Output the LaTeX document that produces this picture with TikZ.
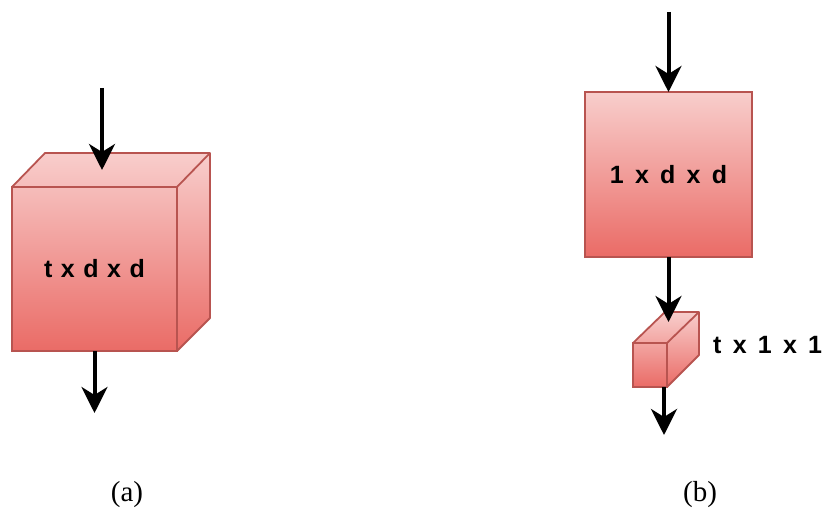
\documentclass[tikz,border=0pt]{standalone}
\usepackage{fontspec}
\setmainfont{Liberation Serif}
\setsansfont{Liberation Sans}
\usetikzlibrary{arrows.meta,backgrounds}

\definecolor{redtop}{HTML}{F8CECC}
\definecolor{redbot}{HTML}{EA6B66}
\definecolor{redline}{HTML}{B85450}

% bold sans with wide word gaps for the size labels
\newcommand{\dimsfont}{\sffamily\bfseries\fontsize{25}{30}\selectfont\spaceskip .34em\relax}
\newcommand{\widedimsfont}{\sffamily\bfseries\fontsize{25}{30}\selectfont\spaceskip .45em\relax}

\tikzset{
  front/.style={draw=redline,line width=1.8pt,outer sep=0pt,inner sep=0pt},
  body/.style={draw=redline,line width=1.8pt,line join=round,
    top color=redtop,bottom color=redbot},
  rim/.style={draw=redline,line width=1.8pt},
  flow/.style={line width=4pt,-{Stealth[length=26pt,width=26pt,inset=8pt]}},
  dims/.style={font=\dimsfont},
  widedims/.style={font=\widedimsfont},
  caption/.style={anchor=base,font=\fontsize{29}{34}\selectfont}
}

\begin{document}
\begin{tikzpicture}[x=1pt,y=-1pt]
  \useasboundingbox (0,0) rectangle (822,508);

  % (a) one block over t frames
  \node[front,dims,minimum width=165pt,minimum height=164pt] (blockA) at (94.5,269) {t x d x d};
  \begin{scope}[on background layer]
    \path[body] (blockA.south west) -- (blockA.north west) -- ++(33,-34) -- ++(165,0)
      -- ++(0,165) -- (blockA.south east) -- cycle;
  \end{scope}
  \draw[rim] (blockA.north east) -- ++(33,-34);
  \coordinate (srcA) at (102,88);
  \coordinate (hitA) at (102,170);
  \coordinate (sinkA) at (94.5,413);
  \draw[flow] (srcA) -- (hitA);
  \draw[flow] (blockA.south) -- (sinkA);
  \node[caption] (capA) at (127,501) {(a)};

  % (b) spatial block, then temporal block
  \node[front,widedims,top color=redtop,bottom color=redbot,
    minimum width=167pt,minimum height=165pt] (blockB) at (668.5,174.5) {1 x d x d};
  \node[front,minimum width=34pt,minimum height=44pt] (cellB) at (650,365) {};
  \begin{scope}[on background layer]
    \path[body] (cellB.south west) -- (cellB.north west) -- ++(32,-31) -- ++(34,0)
      -- ++(0,43) -- (cellB.south east) -- cycle;
  \end{scope}
  \draw[rim] (cellB.north east) -- ++(32,-31);
  \node[widedims,anchor=west,inner sep=0pt] (sizeB) at (713,345) {t x 1 x 1};
  \coordinate (srcB) at (668.5,12);
  \coordinate (hitB) at (668.5,322);
  \coordinate (sinkB) at (664,435);
  \draw[flow] (srcB) -- (blockB.north);
  \draw[flow] (blockB.south) -- (hitB);
  \draw[flow] (sinkB |- cellB.south) -- (sinkB);
  \node[caption] (capB) at (700,501) {(b)};
\end{tikzpicture}
\end{document}
